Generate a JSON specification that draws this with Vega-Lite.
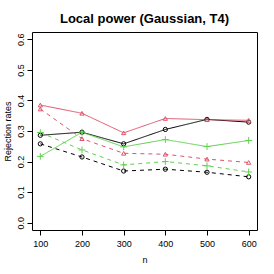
{
  "$schema": "https://vega.github.io/schema/vega-lite/v6.json",
  "width": 225,
  "height": 198,
  "autosize": {"type": "none"},
  "padding": {"left": 32, "top": 32, "right": 17, "bottom": 44},
  "title": {"text": "Local power (Gaussian, T4)", "fontSize": 13, "font": "Liberation Sans", "fontWeight": "bold", "color": "#000", "offset": 6, "anchor": "middle"},
  "data": {"values": [
    {"n": 100, "series": "black_solid", "rate": 0.286},
    {"n": 200, "series": "black_solid", "rate": 0.296},
    {"n": 300, "series": "black_solid", "rate": 0.258},
    {"n": 400, "series": "black_solid", "rate": 0.305},
    {"n": 500, "series": "black_solid", "rate": 0.338},
    {"n": 600, "series": "black_solid", "rate": 0.329},
    {"n": 100, "series": "black_dashed", "rate": 0.258},
    {"n": 200, "series": "black_dashed", "rate": 0.215},
    {"n": 300, "series": "black_dashed", "rate": 0.169},
    {"n": 400, "series": "black_dashed", "rate": 0.175},
    {"n": 500, "series": "black_dashed", "rate": 0.165},
    {"n": 600, "series": "black_dashed", "rate": 0.150},
    {"n": 100, "series": "red_solid", "rate": 0.385},
    {"n": 200, "series": "red_solid", "rate": 0.358},
    {"n": 300, "series": "red_solid", "rate": 0.294},
    {"n": 400, "series": "red_solid", "rate": 0.341},
    {"n": 500, "series": "red_solid", "rate": 0.337},
    {"n": 600, "series": "red_solid", "rate": 0.335},
    {"n": 100, "series": "red_dashed", "rate": 0.372},
    {"n": 200, "series": "red_dashed", "rate": 0.275},
    {"n": 300, "series": "red_dashed", "rate": 0.227},
    {"n": 400, "series": "red_dashed", "rate": 0.224},
    {"n": 500, "series": "red_dashed", "rate": 0.208},
    {"n": 600, "series": "red_dashed", "rate": 0.197},
    {"n": 100, "series": "green_solid", "rate": 0.217},
    {"n": 200, "series": "green_solid", "rate": 0.296},
    {"n": 300, "series": "green_solid", "rate": 0.248},
    {"n": 400, "series": "green_solid", "rate": 0.272},
    {"n": 500, "series": "green_solid", "rate": 0.249},
    {"n": 600, "series": "green_solid", "rate": 0.269},
    {"n": 100, "series": "green_dashed", "rate": 0.295},
    {"n": 200, "series": "green_dashed", "rate": 0.238},
    {"n": 300, "series": "green_dashed", "rate": 0.189},
    {"n": 400, "series": "green_dashed", "rate": 0.200},
    {"n": 500, "series": "green_dashed", "rate": 0.186},
    {"n": 600, "series": "green_dashed", "rate": 0.166}
  ]},
  "encoding": {
    "x": {"field": "n", "type": "quantitative", "scale": {"domain": [80, 620], "nice": false, "zero": false},
          "axis": {"values": [100, 200, 300, 400, 500, 600], "title": "n", "labelPadding": 4, "titlePadding": 7}},
    "y": {"field": "rate", "type": "quantitative", "scale": {"domain": [-0.024, 0.624], "nice": false, "zero": false},
          "axis": {"values": [0, 0.1, 0.2, 0.3, 0.4, 0.5, 0.6], "format": ".1f", "title": "Rejection rates", "labelAngle": -90, "labelAlign": "center", "labelBaseline": "bottom", "labelPadding": 2, "titlePadding": 4}},
    "color": {"field": "series", "type": "nominal", "legend": null,
              "scale": {"domain": ["black_solid", "black_dashed", "red_solid", "red_dashed", "green_solid", "green_dashed"],
                        "range": ["#000000", "#000000", "#DF536B", "#DF536B", "#61D04F", "#61D04F"]}}
  },
  "layer": [
    {"mark": {"type": "line", "strokeWidth": 1},
     "encoding": {"strokeDash": {"field": "series", "type": "nominal", "legend": null,
        "scale": {"domain": ["black_solid", "black_dashed", "red_solid", "red_dashed", "green_solid", "green_dashed"],
                  "range": [[1, 0], [4, 4], [1, 0], [4, 4], [1, 0], [4, 4]]}}}},
    {"mark": {"type": "point", "filled": false, "strokeWidth": 1, "opacity": 1, "size": 18},
     "encoding": {"shape": {"field": "series", "type": "nominal", "legend": null,
        "scale": {"domain": ["black_solid", "black_dashed", "red_solid", "red_dashed", "green_solid", "green_dashed"],
                  "range": ["circle", "circle", "triangle-up", "triangle-up", "M-1.6,0L1.6,0M0,-1.6L0,1.6", "M-1.6,0L1.6,0M0,-1.6L0,1.6"]}}}}
  ],
  "config": {
    "view": {"stroke": "#000", "strokeWidth": 1},
    "axis": {"domain": false, "grid": false, "ticks": true, "tickColor": "#000", "tickSize": 5,
             "labelFont": "Liberation Sans", "labelFontSize": 9, "labelColor": "#000",
             "titleFont": "Liberation Sans", "titleFontSize": 9, "titleFontWeight": "normal", "titleColor": "#000"}
  }
}
